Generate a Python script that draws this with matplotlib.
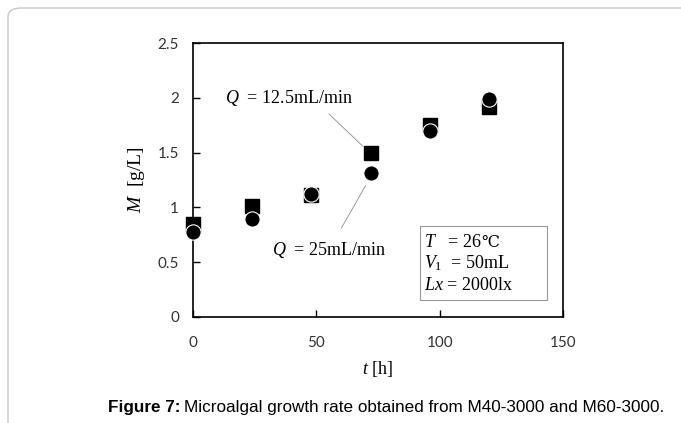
import matplotlib
matplotlib.use('Agg')
import matplotlib.pyplot as plt
from matplotlib.patches import FancyBboxPatch, Rectangle

# data
t_hours = [0, 24, 48, 72, 96, 120]
m_q125 = [0.85, 1.01, 1.11, 1.50, 1.75, 1.92]
m_q25 = [0.78, 0.89, 1.12, 1.31, 1.70, 1.99]
x_ticks = [0, 50, 100, 150]
y_ticks = [0, 0.5, 1, 1.5, 2, 2.5]

plt.rcParams['mathtext.fontset'] = 'custom'
plt.rcParams['mathtext.rm'] = 'Liberation Serif'
plt.rcParams['mathtext.it'] = 'Liberation Serif:italic'

serif = ['Liberation Serif', 'DejaVu Serif']
tickfont = 'Lato'

fig = plt.figure(figsize=(6.81, 4.23), dpi=100)

# light rounded frame around the figure
frame = FancyBboxPatch((8/681, -0.1), 1.2, 1 - 8/423 + 0.1,
                       boxstyle='round,pad=0,rounding_size=0.02',
                       transform=fig.transFigure, fill=False,
                       edgecolor='#c8c8c8', linewidth=1.0)
fig.patches.append(frame)

ax = fig.add_axes([193/681, 1 - 317/423, 370/681, 274/423])

ax.plot(t_hours, m_q125, linestyle='none', marker='s', markersize=9.5,
        color='black', markeredgecolor='black', clip_on=False, zorder=3)
ax.plot(t_hours, m_q25, linestyle='none', marker='o', markersize=11,
        color='black', markeredgecolor='white', markeredgewidth=0.8,
        clip_on=False, zorder=4)

ax.set_xlim(0, 150)
ax.set_ylim(0, 2.5)
ax.set_xticks(x_ticks)
ax.set_yticks(y_ticks)
ax.set_yticklabels([f'{v:g}' for v in y_ticks])
ax.tick_params(direction='in', length=5, width=1, top=False, right=False,
               labelsize=11, labelcolor='#333333', pad=10)
ax.tick_params(axis='x', pad=14)
for lbl in ax.get_xticklabels() + ax.get_yticklabels():
    lbl.set_family(tickfont)
for sp in ax.spines.values():
    sp.set_linewidth(1.2)

ax.set_xlabel('$t$ [h]', family=serif, fontsize=13, labelpad=6)
ax.set_ylabel('$M$  [g/L]', family=serif, fontsize=14, labelpad=8)

# series labels with leader lines
ax.text(13, 2.0, '$Q$  = 12.5mL/min', family=serif, fontsize=13, va='center')
ax.annotate('', xy=(69.7, 1.54), xytext=(54.3, 1.87),
            arrowprops=dict(arrowstyle='-', color='#999999', lw=0.7))
ax.text(32, 0.61, '$Q$  = 25mL/min', family=serif, fontsize=13, va='center')
ax.annotate('', xy=(70.5, 1.22), xytext=(59.6, 0.79),
            arrowprops=dict(arrowstyle='-', color='#999999', lw=0.7))

# condition box
ax.add_patch(Rectangle((92.0, 0.155), 51.5, 0.675, facecolor='white',
                       edgecolor='#999999', linewidth=0.8, zorder=2))
t_line = ax.text(93.5, 0.684, '$T$   = 26', family=serif, fontsize=13,
                 va='center', zorder=5)
ax.annotate('℃', xy=(1, 0), xycoords=t_line, family='DejaVu Serif',
            fontsize=11.5, va='bottom', ha='left', zorder=5)
ax.text(93.5, 0.49, '$V_\\mathrm{1}$  = 50mL', family=serif, fontsize=13,
        va='center', zorder=5)
ax.text(93.5, 0.29, '$Lx$ = 2000lx', family=serif, fontsize=13,
        va='center', zorder=5)

# caption: bold lead-in, then the rest placed right after it
cap_y = 1 - 407/423
bold = fig.text(108/681, cap_y, 'Figure 7:', family='Liberation Sans',
                fontsize=12.3, fontweight='bold', va='center')
fig.canvas.draw()
bb = bold.get_window_extent().transformed(fig.transFigure.inverted())
fig.text(bb.x1 + 4/681, cap_y,
         'Microalgal growth rate obtained from M40-3000 and M60-3000.',
         family='Liberation Sans', fontsize=12.3, va='center')

fig.savefig('out.png', dpi=100)
